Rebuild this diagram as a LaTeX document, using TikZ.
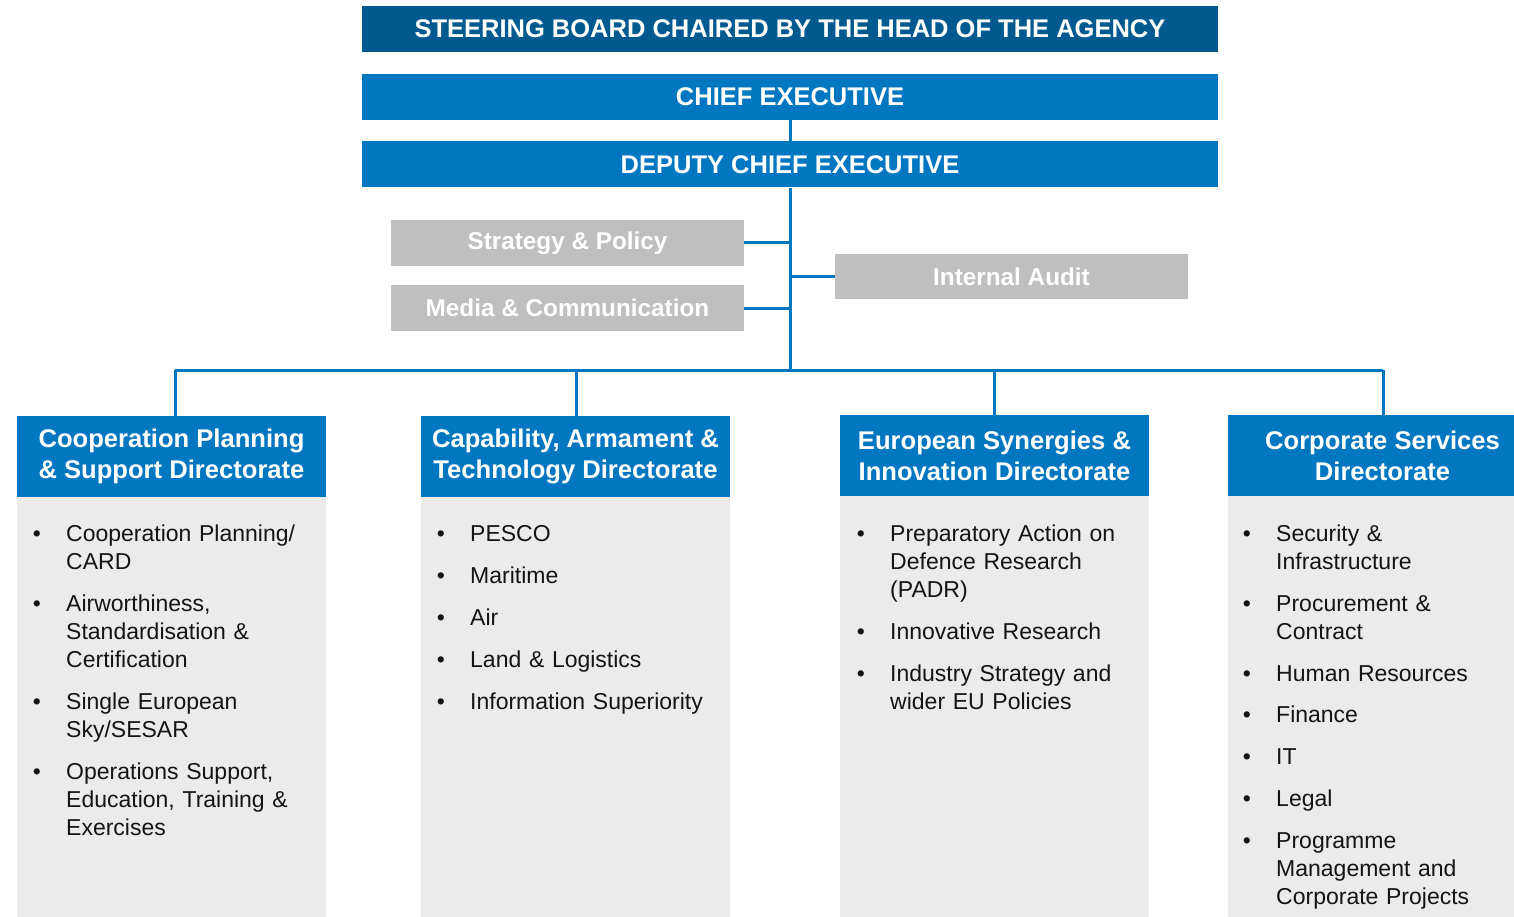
\documentclass[tikz,border=0pt]{standalone}
\usepackage{fontspec}
\setmainfont{Liberation Sans}
\newfontfamily\hdrfont{Liberation Sans}
\definecolor{darkblue}{RGB}{1,90,143}
\definecolor{midblue}{RGB}{0,119,192}
\definecolor{boxgray}{RGB}{191,191,191}
\definecolor{panelgray}{RGB}{235,235,235}
\definecolor{txt}{RGB}{20,20,20}
\tikzset{
  topbox/.style={fill=midblue, text=white, inner sep=0pt, minimum width=856pt, minimum height=46pt,
    font=\hdrfont\bfseries\fontsize{25.5}{28}\selectfont},
  graybox/.style={fill=boxgray, text=white, inner sep=0pt, minimum width=353pt, minimum height=46pt,
    font=\hdrfont\bfseries\fontsize{24.3}{28}\selectfont},
  dirbox/.style={fill=midblue, text=white, inner sep=0pt, minimum width=309pt, minimum height=81pt,
    align=center, font=\hdrfont\bfseries\fontsize{25.6}{31}\selectfont},
  link/.style={draw=midblue, line width=3pt},
  bul/.style={anchor=base, inner sep=0pt, text=txt, font=\fontsize{23}{28}\selectfont},
  itm/.style={anchor=north west, inner sep=0pt, text width=330pt, align=left, text=txt,
    font=\fontsize{23}{28}\selectfont},
}
\newcommand\bitem[4]{%
  \node[bul] (#1b) at (#2-29,-#3) {•};
  \node[itm] (#1) at (#2,{20-#3}) {\rule{0pt}{20pt}#4};
}
\begin{document}
\begin{tikzpicture}[x=1pt,y=1pt]
\useasboundingbox (0,0) rectangle (1514,-917);
\clip (0,0) rectangle (1514,-917);

% top boxes
\node[topbox, fill=darkblue] (sb) at (790,-29) {STEERING BOARD CHAIRED BY THE HEAD OF THE AGENCY};
\node[topbox] (ce) at (790,-97) {CHIEF EXECUTIVE};
\node[topbox] (dce) at (790,-164.5) {DEPUTY CHIEF EXECUTIVE};

% staff boxes
\node[graybox] (sp) at (567.5,-243) {Strategy \& Policy};
\node[graybox] (mc) at (567.5,-308) {Media \& Communication};
\node[graybox, minimum height=45pt] (ia) at (1011.5,-276.5) {Internal Audit};

% directorate panels
\fill[panelgray] (17,-497) rectangle (326,-920);
\fill[panelgray] (421,-497) rectangle (730,-920);
\fill[panelgray] (840,-496) rectangle (1149,-920);
\fill[panelgray] (1228,-496) rectangle (1537,-920);

% directorate headers
\node[dirbox] (d1) at (171.5,-456.5) {Cooperation Planning\\\& Support Directorate};
\node[dirbox] (d2) at (575.5,-456.5) {Capability, Armament \&\\Technology Directorate};
\node[dirbox] (d3) at (994.5,-455.5) {European Synergies \&\\Innovation Directorate};
\node[dirbox] (d4) at (1382.5,-455.5) {Corporate Services\\Directorate};

% connectors
\coordinate (trunk) at (790,-370);
\coordinate (j1) at (175,-370);
\coordinate (j2) at (576,-370);
\coordinate (j3) at (994,-370);
\coordinate (j4) at (1383,-370);
\draw[link] (ce.south) -- (dce.north);
\draw[link] (dce.south) -- (trunk);
\draw[link] (sp.east) -- (sp.east -| trunk);
\draw[link] (mc.east) -- (mc.east -| trunk);
\draw[link] (ia.west) -- (ia.west -| trunk);
\draw[link] (j1) -- (j4);
\draw[link] (j1) -- (j1 |- d1.north);
\draw[link] (j2) -- (j2 |- d2.north);
\draw[link] (j3) -- (j3 |- d3.north);
\draw[link] (j4) -- (j4 |- d4.north);

% column 1
\bitem{a1}{66}{541}{Cooperation Planning/\\CARD}
\bitem{a2}{66}{611}{Airworthiness,\\Standardisation \&\\Certification}
\bitem{a3}{66}{709}{Single European\\Sky/SESAR}
\bitem{a4}{66}{779}{Operations Support,\\Education, Training \&\\Exercises}

% column 2
\bitem{b1}{470}{541}{PESCO}
\bitem{b2}{470}{583}{Maritime}
\bitem{b3}{470}{625}{Air}
\bitem{b4}{470}{667}{Land \& Logistics}
\bitem{b5}{470}{709}{Information Superiority}

% column 3
\bitem{c1}{890}{541}{Preparatory Action on\\Defence Research\\(PADR)}
\bitem{c2}{890}{639}{Innovative Research}
\bitem{c3}{890}{681}{Industry Strategy and\\wider EU Policies}

% column 4
\bitem{e1}{1276}{541}{Security \&\\Infrastructure}
\bitem{e2}{1276}{611}{Procurement \&\\Contract}
\bitem{e3}{1276}{681}{Human Resources}
\bitem{e4}{1276}{722}{Finance}
\bitem{e5}{1276}{764}{IT}
\bitem{e6}{1276}{806}{Legal}
\bitem{e7}{1276}{848}{Programme\\Management and\\Corporate Projects}
\end{tikzpicture}
\end{document}
